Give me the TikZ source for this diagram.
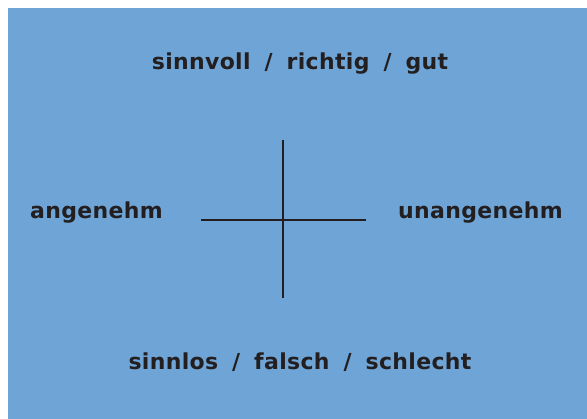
\documentclass[tikz,border=0pt]{standalone}
\usepackage{fontspec}
\setmainfont{DejaVu Sans}[BoldFeatures={LetterSpace=1.5}, WordSpace=1.75]
\definecolor{bg}{RGB}{111,164,214}
\definecolor{ink}{RGB}{35,31,32}
\begin{document}
\begin{tikzpicture}[x=1pt,y=-1pt,
  lbl/.style={font=\fontsize{22}{26}\selectfont\bfseries, text=ink, inner sep=0pt},
  axis/.style={draw=ink, line width=2.4pt}]
\useasboundingbox (0,0) rectangle (587,419);
\fill[bg] (8,8) rectangle (587,419);
\node[lbl, anchor=base] (top) at (300,70) {sinnvoll / richtig / gut};
\node[lbl, anchor=base] (bottom) at (300,370) {sinnlos / falsch / schlecht};
\node[lbl, anchor=base west] (left) at (30,219) {angenehm};
\node[lbl, anchor=base east] (right) at (563,219) {unangenehm};
\coordinate (vt) at (283,140);
\coordinate (vb) at (283,298);
\coordinate (hl) at (201,220);
\coordinate (hr) at (366,220);
\draw[axis] (vt) -- (vb);
\draw[axis, line width=2pt] (hl) -- (hr);
\end{tikzpicture}
\end{document}
